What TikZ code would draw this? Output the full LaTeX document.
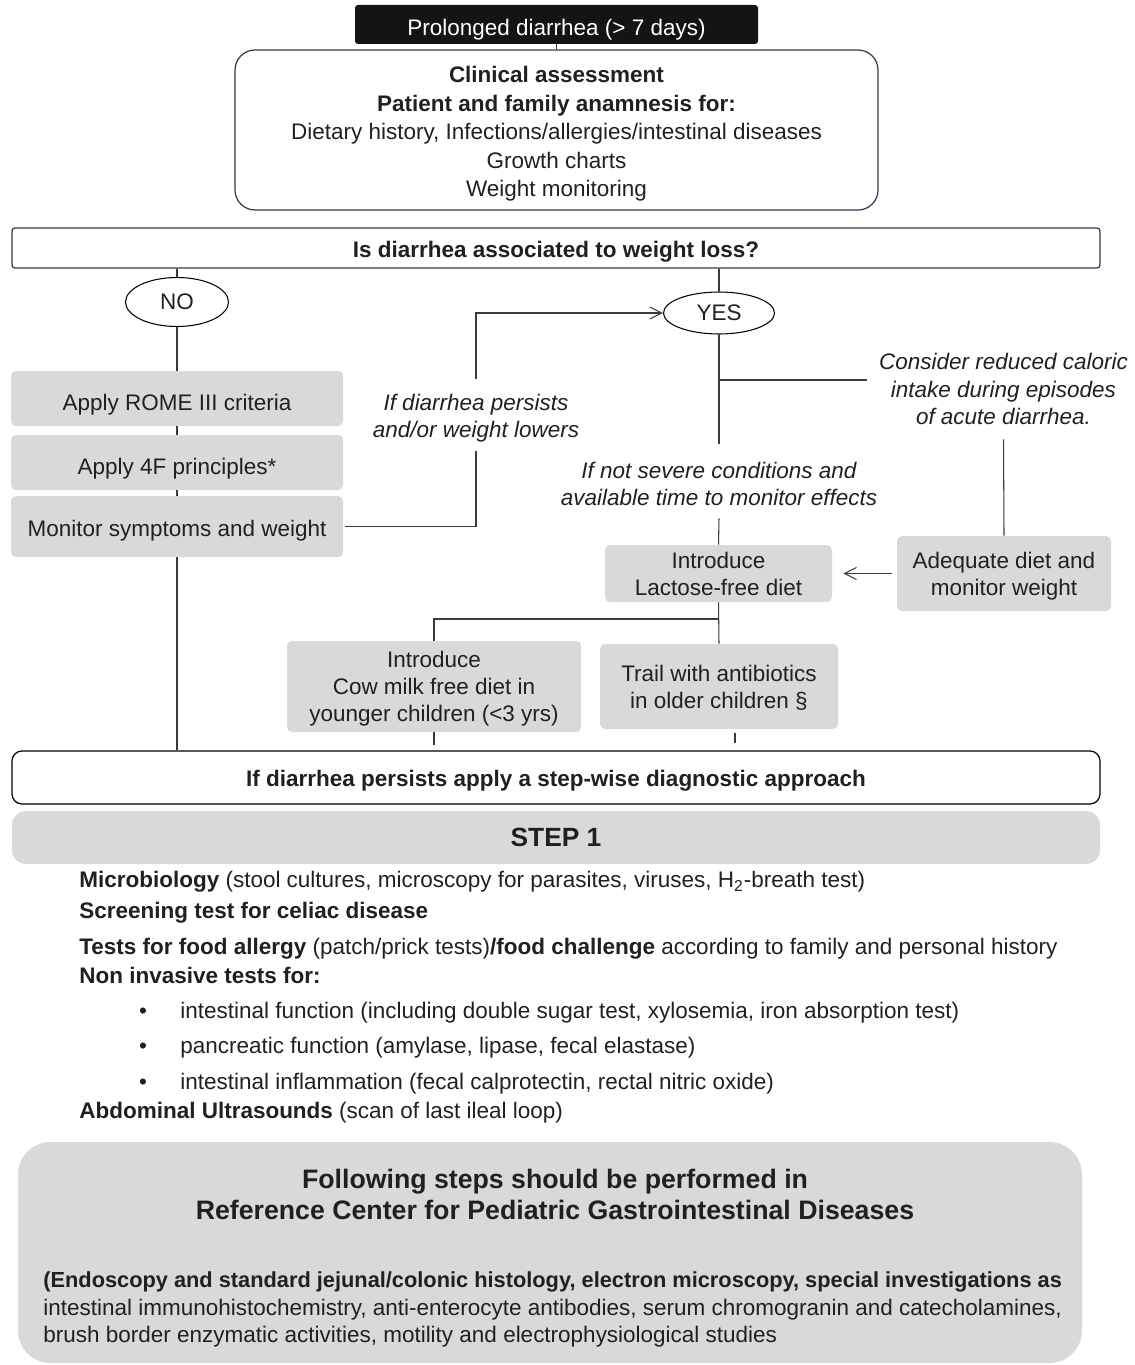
\documentclass[tikz,border=0pt]{standalone}
\usepackage{fontspec}
\setmainfont{Liberation Sans}
\usetikzlibrary{shapes.geometric,arrows.meta}
\definecolor{txt}{HTML}{231F20}
\definecolor{boxgray}{HTML}{D9D9D9}
\definecolor{ln}{HTML}{3A3A3A}
\definecolor{navy}{HTML}{2E3B4E}
\def\pu{0.02cm}
\newcommand\padtop[1]{\rule{0pt}{\dimexpr9.4pt+#1\relax}}
\begin{document}
\begin{tikzpicture}[x=0.02cm,y=-0.02cm,
  base/.style={font=\fontsize{12.8}{15.4}\selectfont, text=txt, align=center, inner sep=0pt},
  ital/.style={base, font=\fontsize{12.8}{15.4}\selectfont\itshape},
  graybox/.style={base, fill=boxgray, rounded corners=0.1cm},
  conn/.style={draw=ln, line width=0.6pt},
  oval/.style={base, ellipse, draw=black, line width=0.6pt},
  arr/.style={-{Straight Barb[length=2.4mm,width=2.4mm,line width=0.6pt]}},
  listtext/.style={base, anchor=west, align=left}
]
\useasboundingbox (0,0) rectangle (1134,1365);

% top nodes
\node[base, fill=black!92, text=white, rounded corners=0.06cm, minimum width=403*\pu, minimum height=39*\pu] (top) at (556.5,24.5) {\padtop{5.7pt}Prolonged diarrhea (> 7 days)};
\node[base, font=\fontsize{12.8}{16.2}\selectfont, draw=navy, line width=0.7pt, rounded corners=0.4cm, minimum width=643*\pu, minimum height=160*\pu] (clin) at (556.5,130) {\padtop{4.5pt}\textbf{Clinical assessment}\\\textbf{Patient and family anamnesis for:}\\Dietary history, Infections/allergies/intestinal diseases\\Growth charts\\Weight monitoring};
\node[base, draw=navy, line width=0.7pt, rounded corners=0.06cm, minimum width=1088*\pu, minimum height=40*\pu] (wl) at (556,248) {\padtop{4.5pt}\textbf{Is diarrhea associated to weight loss?}};

\node[oval, minimum width=103*\pu, minimum height=49*\pu] (no) at (177,302) {NO};
\node[oval, minimum width=111*\pu, minimum height=42*\pu] (yes) at (719,313) {YES};

% left column
\node[graybox, minimum width=332*\pu, minimum height=55*\pu] (rome) at (177,398.5) {\padtop{6.8pt}Apply ROME III criteria};
\node[graybox, minimum width=332*\pu, minimum height=55*\pu] (f4) at (177,462.5) {\padtop{7.4pt}Apply 4F principles*};
\node[graybox, minimum width=332*\pu, minimum height=61*\pu] (mon) at (177,526.5) {\padtop{4.5pt}Monitor symptoms and weight};

\node[ital, minimum height=72*\pu] (pl) at (476,415) {\padtop{4pt}If diarrhea persists\\and/or weight lowers};

% right part
\node[ital, minimum height=74*\pu] (ns) at (719,481) {\padtop{2.8pt}If not severe conditions and\\available time to monitor effects};
\node[ital, minimum width=273*\pu, minimum height=100*\pu] (cons) at (1003.5,389) {Consider reduced caloric\\intake during episodes\\of acute diarrhea.};
\node[graybox, minimum width=214*\pu, minimum height=75*\pu] (adeq) at (1004,573.5) {\padtop{2.8pt}Adequate diet and\\monitor weight};
\node[graybox, minimum width=227*\pu, minimum height=57*\pu] (lac) at (718.5,573.5) {Introduce\\Lactose-free diet};
\node[graybox, minimum width=294*\pu, minimum height=91*\pu] (cow) at (434,686.5) {\padtop{2.8pt}Introduce\\Cow milk free diet in\\younger children (<3 yrs)};
\node[graybox, minimum width=238*\pu, minimum height=85*\pu] (ant) at (719,686.5) {\padtop{1.2pt}Trail with antibiotics\\in older children §};

\node[base, draw=black, line width=0.7pt, rounded corners=0.2cm, minimum width=1088*\pu, minimum height=53*\pu] (pers) at (556,777.5) {\padtop{3.4pt}\textbf{If diarrhea persists apply a step-wise diagnostic approach}};
\node[base, fill=boxgray, rounded corners=0.28cm, minimum width=1088*\pu, minimum height=53*\pu, font=\fontsize{15}{18}\selectfont\bfseries] (step) at (556,837.5) {STEP 1};

% coordinates
\coordinate (br) at (719,380);
\coordinate (bj) at (719,619);
\coordinate (st1) at (434,745);
\coordinate (st2a) at (735,733);
\coordinate (st2b) at (735,743);

% connectors
\draw[conn] (top) -- (clin);
\draw[conn] (wl.south -| no) -- (no.north);
\draw[conn] (wl.south -| yes) -- (yes.north);
\draw[conn] (no.south) -- (rome.north);
\draw[conn] (rome.south) -- (f4.north);
\draw[conn] (f4.south) -- (mon.north);
\draw[conn, shorten <=0.04cm] (mon.east) -| (pl.south);
\draw[conn, arr] (pl.north) |- (yes.west);
\draw[conn] (yes.south) -- (ns.north);
\draw[conn] (br) -- (br -| cons.west);
\draw[conn] (cons.south) -- (adeq.north);
\draw[conn] (ns.south) -- (lac.north);
\draw[conn, arr, shorten <=0.1cm, shorten >=0.22cm] (adeq.west) -- (lac.east);
\draw[conn] (lac.south) -- (ant.north);
\draw[conn] (lac.south |- bj) -| (cow.north);
\draw[conn] (cow.south) -- (st1);
\draw[conn] (st2a) -- (st2b);
\draw[conn] (mon.south) -- (mon.south |- pers.north);

% step 1 list
\node[listtext] (l1) at (79,882) {\textbf{Microbiology} (stool cultures, microscopy for parasites, viruses, H\textsubscript{2}-breath test)};
\node[listtext] (l2) at (79,913) {\textbf{Screening test for celiac disease}};
\node[listtext] (l3) at (79,949) {\textbf{Tests for food allergy} (patch/prick tests)\textbf{/food challenge} according to family and personal history};
\node[listtext] (l4) at (79,975) {\textbf{Non invasive tests for:}};
\node[base] (b1) at (143,1013) {•};
\node[listtext] (l5) at (180,1013) {intestinal function (including double sugar test, xylosemia, iron absorption test)};
\node[base] (b2) at (143,1048) {•};
\node[listtext] (l6) at (180,1048) {pancreatic function (amylase, lipase, fecal elastase)};
\node[base] (b3) at (143,1084) {•};
\node[listtext] (l7) at (180,1084) {intestinal inflammation (fecal calprotectin, rectal nitric oxide)};
\node[listtext] (l8) at (79,1113) {\textbf{Abdominal Ultrasounds} (scan of last ileal loop)};

% reference center box
\node[base, fill=boxgray, rounded corners=0.65cm, minimum width=1064*\pu, minimum height=221*\pu] (refbox) at (550,1252.5) {};
\node[base, font=\fontsize{15.2}{17.6}\selectfont\bfseries] (t1) at (555,1194.5) {Following steps should be performed in\\Reference Center for Pediatric Gastrointestinal Diseases};
\node[listtext, font=\fontsize{12.8}{15.6}\selectfont] (para) at (43,1309.5) {{\fontsize{12.4}{15.6}\selectfont\textbf{(Endoscopy and standard jejunal/colonic histology, electron microscopy, special investigations as}}\\intestinal immunohistochemistry, anti-enterocyte antibodies, serum chromogranin and catecholamines,\\brush border enzymatic activities, motility and electrophysiological studies};
\end{tikzpicture}
\end{document}
